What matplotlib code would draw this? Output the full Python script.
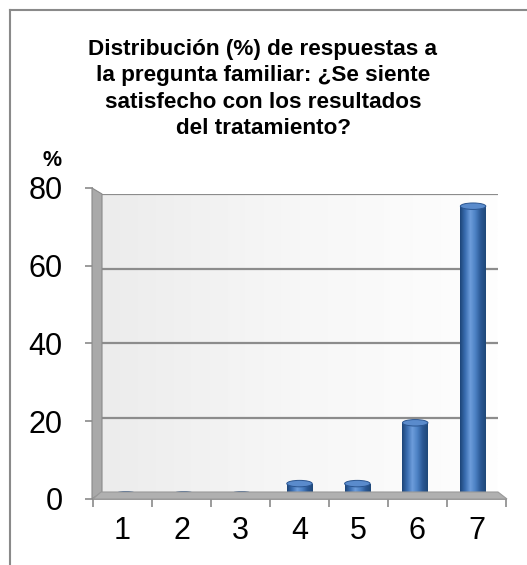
import numpy as np
import matplotlib.pyplot as plt
from matplotlib.patches import Ellipse, Polygon
from matplotlib.colors import LinearSegmentedColormap
from matplotlib.lines import Line2D

CATEGORIES = ["1", "2", "3", "4", "5", "6", "7"]
PERCENTS = [0.0, 0.0, 0.0, 3.0, 3.0, 19.0, 76.0]
Y_TICKS = [0, 20, 40, 60, 80]
TITLE = ("Distribución (%) de respuestas a\nla pregunta familiar: ¿Se siente\n"
         "satisfecho con los resultados\ndel tratamiento?")

W, H = 527, 565
plt.rcParams["font.family"] = ["Liberation Sans", "DejaVu Sans"]


def box(x0, y0, x1, y1):
    # pixel box (top-left origin) -> figure fraction rect
    return [x0 / W, 1 - y1 / H, (x1 - x0) / W, (y1 - y0) / H]


def fpoly(points, **kw):
    pts = [(x / W, 1 - y / H) for x, y in points]
    return Polygon(pts, closed=True, transform=fig.transFigure, **kw)


fig = plt.figure(figsize=(W / 100, H / 100), dpi=100)
fig.patch.set_facecolor("white")

# outer frame (only left and top visible)
fig.add_artist(Line2D([10 / W, 10 / W], [0, 1 - 10 / H], transform=fig.transFigure,
                      color="#8a8a8a", lw=1.5))
fig.add_artist(Line2D([10 / W, 1], [1 - 10 / H, 1 - 10 / H], transform=fig.transFigure,
                      color="#8a8a8a", lw=1.5))

fig.text(263 / W, 1 - 89 / H, TITLE, ha="center", va="center", fontsize=16.2,
         fontweight="bold", linespacing=1.32)
fig.text(52 / W, 1 - 160 / H, "%", ha="center", va="center", fontsize=15.5,
         fontweight="bold")

# back wall with gridlines
wall = fig.add_axes(box(101, 194, 498, 492))
wall.set_xlim(0, 1)
wall.set_ylim(0, 80)
grad = np.linspace(0, 1, 256).reshape(1, -1)
wall_cmap = LinearSegmentedColormap.from_list("wall", ["#ececec", "#f7f7f7", "#fefefe"])
wall.imshow(grad, extent=[0, 1, 0, 80], aspect="auto", cmap=wall_cmap, zorder=0)
for yv in Y_TICKS[1:]:
    wall.axhline(yv, color="#8c8c8c", lw=1.6, zorder=1)
wall.axis("off")

# left wall and floor
fig.add_artist(fpoly([(92, 188), (102, 194), (102, 492), (92, 499)],
                     facecolor="#a9a9a9", edgecolor="#8a8a8a", lw=0.8))
fig.add_artist(fpoly([(93, 499), (507, 499), (498, 492), (101, 492)],
                     facecolor="#b0b0b0", edgecolor="#999999", lw=0.8))

# front axes: ticks and labels
ax = fig.add_axes(box(93, 188, 506, 499))
ax.patch.set_alpha(0)
ax.set_xlim(0.5, len(CATEGORIES) + 0.5)
ax.set_ylim(0, 80)
for side in ["top", "right", "left"]:
    ax.spines[side].set_visible(False)
ax.spines["bottom"].set_color("#8a8a8a")
ax.spines["bottom"].set_linewidth(1.2)
ax.set_yticks(Y_TICKS)
ax.set_yticklabels([str(v) for v in Y_TICKS], fontsize=22)
ax.set_xticks(np.arange(0.5, len(CATEGORIES) + 1, 1.0))
ax.set_xticklabels([])
ax.set_xticks(np.arange(1, len(CATEGORIES) + 1), minor=True)
ax.set_xticklabels(CATEGORIES, minor=True, fontsize=22)
ax.tick_params(axis="x", which="major", length=6, width=1.2, color="#8a8a8a", direction="out")
ax.tick_params(axis="x", which="minor", length=0, pad=12)
ax.tick_params(axis="y", length=6, width=1.2, color="#8a8a8a", pad=16)

# cylinders
bx = fig.add_axes(box(97, 191, 502, 495))
bx.patch.set_alpha(0)
bx.set_xlim(0.5, len(CATEGORIES) + 0.5)
bx.set_ylim(0, 80)
bx.axis("off")
cyl_cmap = LinearSegmentedColormap.from_list(
    "cyl", ["#1c4477", "#3a6db0", "#6d9ddb", "#4b80c3", "#2b5894", "#1f4878"])
bw = 0.44
cap_h = 1.7
xs = np.arange(1, len(CATEGORIES) + 1)
bars = bx.bar(xs, PERCENTS, width=bw, color="none", edgecolor="none")
for xc, v, rect in zip(xs, PERCENTS, bars):
    bx.add_patch(Ellipse((xc, 0), bw, cap_h, facecolor="#2e5d9a", edgecolor="#24507f",
                         lw=0.6, zorder=2))
    if v > 0:
        im = bx.imshow(grad, extent=[xc - bw / 2, xc + bw / 2, 0, v], aspect="auto",
                       cmap=cyl_cmap, zorder=3)
        im.set_clip_path(rect)
    bx.add_patch(Ellipse((xc, v), bw, cap_h, facecolor="#5a8bcc", edgecolor="#2a5590",
                         lw=0.7, zorder=4))

fig.savefig("out.png", dpi=100)
